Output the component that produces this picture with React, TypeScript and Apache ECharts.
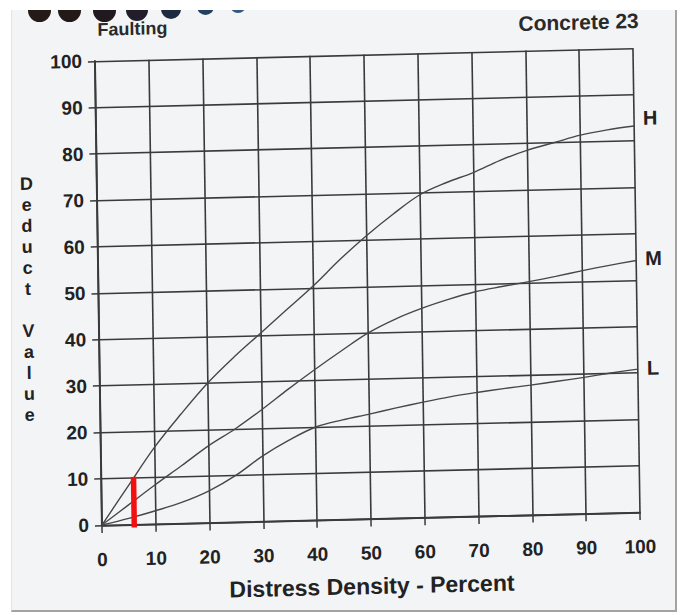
import React, { useEffect, useRef } from "react";
import * as echarts from "echarts";

// Distress density (percent) at which each deduct value is read
const densities = [0, 5, 10, 15, 20, 25, 30, 35, 40, 45, 50, 55, 60, 65, 70, 75, 80, 85, 90, 95, 100];

// Deduct value curves by severity level
const highDeduct = [0, 8.3, 16.5, 23.5, 30, 35.5, 40.5, 45.5, 50.5, 56, 61, 65.5, 69.5, 72, 74, 76.5, 78.5, 80, 81.5, 82.5, 83.2];
const mediumDeduct = [0, 4.2, 8.4, 12.4, 16.5, 20, 24, 28.3, 32.4, 36.3, 40, 42.8, 45, 46.8, 48.3, 49.3, 50.2, 51.2, 52.3, 53.3, 54.2];
const lowDeduct = [0, 1.3, 2.8, 4.5, 6.8, 10, 14, 17.3, 20, 21.4, 22.5, 23.7, 24.8, 25.8, 26.6, 27.3, 27.9, 28.6, 29.3, 30.1, 30.8];

const severityNames = ["H", "M", "L"];

// Red marker: density and deduct range it spans
const markerDensity = 6;
const markerRange = [-0.7, 10.2];

const chartTitle = "Faulting";
const sheetTitle = "Concrete 23";
const xAxisTitle = "Distress Density - Percent";
const yAxisTitle = "Deduct Value";

const FONT = "'Liberation Sans', Arial, Helvetica, sans-serif";
const INK = "#222222";
const GRID_INK = "#3a3a3a";
const CURVE_INK = "#474747";

// binding-hole shadows along the top edge of the sheet
const holes = [
  { cx: 38, cy: 10, r: 11.5, color: "#241b18" },
  { cx: 68, cy: 10, r: 11.5, color: "#231a18" },
  { cx: 103, cy: 10, r: 11.5, color: "#201a1e" },
  { cx: 136, cy: 9.5, r: 11, color: "#211e2a" },
  { cx: 170, cy: 9, r: 10, color: "#1d2a40" },
  { cx: 204, cy: 6, r: 8.5, color: "#24405e" },
  { cx: 237, cy: 5, r: 8, color: "#34587a" },
  { cx: 268, cy: 6, r: 4, color: "#a9bed0" },
];

function pairs(values: number[]) {
  return densities.map((d, i) => [d, values[i]]);
}

function curve(name: string, values: number[], offsetY: number) {
  return {
    name,
    type: "line",
    data: pairs(values),
    smooth: 0.35,
    symbol: "none",
    lineStyle: { color: CURVE_INK, width: 1.4 },
    endLabel: {
      show: true,
      formatter: "{a}",
      distance: 9,
      offset: [0, offsetY],
      color: INK,
      fontSize: 20,
      fontWeight: "bold",
      fontFamily: FONT,
    },
    z: 3,
  };
}

function buildOption() {
  return {
    animation: false,
    backgroundColor: "transparent",
    grid: { left: 94, top: 63.3, width: 538, height: 464, containLabel: false },
    xAxis: {
      type: "value",
      min: 0,
      max: 100,
      interval: 10,
      name: xAxisTitle,
      nameLocation: "middle",
      nameGap: 56,
      nameTextStyle: { color: INK, fontSize: 23, fontWeight: "bold", fontFamily: FONT },
      axisLine: { show: true, lineStyle: { color: GRID_INK, width: 2 } },
      axisTick: { show: true, length: 8, lineStyle: { color: GRID_INK, width: 1.5 } },
      axisLabel: { color: INK, fontSize: 19, fontWeight: "bold", fontFamily: FONT, margin: 25 },
      splitLine: { show: true, lineStyle: { color: GRID_INK, width: 1.6 } },
    },
    yAxis: {
      type: "value",
      min: 0,
      max: 100,
      interval: 10,
      axisLine: { show: true, lineStyle: { color: GRID_INK, width: 2 } },
      axisTick: { show: true, length: 7, lineStyle: { color: GRID_INK, width: 1.5 } },
      axisLabel: { color: INK, fontSize: 19, fontWeight: "bold", fontFamily: FONT, margin: 13 },
      splitLine: { show: true, lineStyle: { color: GRID_INK, width: 1.6 } },
    },
    graphic: [
      {
        type: "text",
        x: 132,
        y: 32,
        style: {
          text: chartTitle,
          fill: "#2a2a2a",
          fontSize: 18,
          fontWeight: "bold",
          fontFamily: FONT,
          align: "center",
          verticalAlign: "middle",
        },
      },
      {
        type: "text",
        x: 578,
        y: 36,
        style: {
          text: sheetTitle,
          fill: "#2a2a2a",
          fontSize: 21,
          fontWeight: "bold",
          fontFamily: FONT,
          align: "center",
          verticalAlign: "middle",
        },
      },
      {
        type: "text",
        x: 23.5,
        y: 300,
        style: {
          text: yAxisTitle.split("").join("\n"),
          fill: INK,
          fontSize: 18,
          fontWeight: "bold",
          fontFamily: FONT,
          lineHeight: 21,
          align: "center",
          verticalAlign: "middle",
        },
      },
    ],
    series: [
      curve(severityNames[0], highDeduct, -8),
      curve(severityNames[1], mediumDeduct, -2),
      curve(severityNames[2], lowDeduct, -1),
      {
        name: "marker",
        type: "line",
        data: markerRange.map((v) => [markerDensity, v]),
        symbol: "none",
        clip: false,
        lineStyle: { color: "#f21010", width: 5.5, cap: "butt" },
        z: 5,
      },
    ],
  };
}

export default function App() {
  const ref = useRef<HTMLDivElement>(null);

  useEffect(() => {
    if (!ref.current) return;
    const chart = echarts.init(ref.current, null, { renderer: "svg" });
    chart.setOption(buildOption() as any);
    return () => chart.dispose();
  }, []);

  return (
    <div
      style={{
        position: "fixed",
        left: 0,
        top: 0,
        width: 680,
        height: 615,
        background: "#ffffff",
        overflow: "hidden",
      }}
    >
      <div
        style={{
          position: "absolute",
          left: 11,
          top: 10,
          width: 663,
          height: 600,
          background: "#f2f4f6",
          borderLeft: "1px solid #e2e4e6",
          borderRight: "2px solid #a3a3a3",
          borderBottom: "2px solid #a3a3a3",
          overflow: "hidden",
        }}
      >
        {holes.map((h, i) => (
          <div
            key={i}
            style={{
              position: "absolute",
              left: h.cx - 11 - h.r,
              top: h.cy - 10 - h.r,
              width: h.r * 2,
              height: h.r * 2,
              borderRadius: "50%",
              background: h.color,
            }}
          />
        ))}
      </div>
      <div
        ref={ref}
        style={{
          position: "absolute",
          left: 0,
          top: 0,
          width: 680,
          height: 615,
          transformOrigin: "0 0",
          transform: "matrix(1, -0.0242, 0.0151, 1, 0, 0)",
        }}
      />
    </div>
  );
}
